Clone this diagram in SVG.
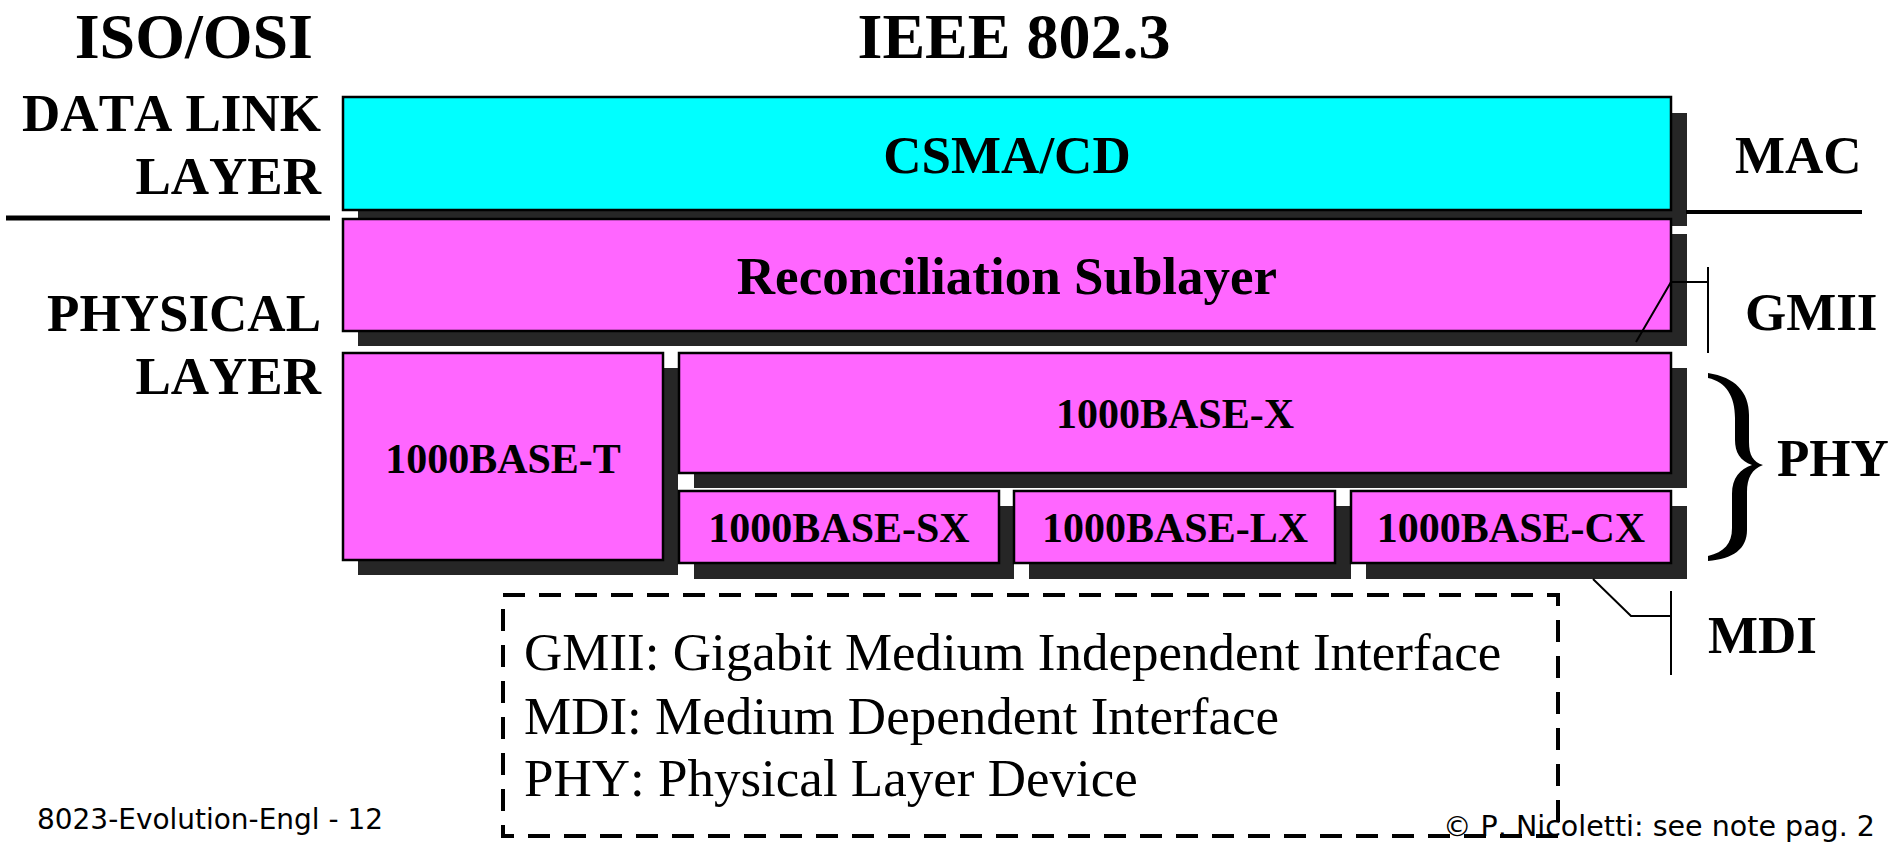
<svg xmlns="http://www.w3.org/2000/svg" width="1902" height="842" viewBox="0 0 1902 842">
<style>
.bg{fill:#ffffff}
.sh{fill:#262626}
.cy{fill:#00ffff;stroke:#000;stroke-width:2.5}
.mg{fill:#ff66ff;stroke:#000;stroke-width:2.5}
text{font-kerning:none}
.tb{font-family:"Liberation Serif","Times New Roman",serif;font-weight:bold;fill:#000}
.t53{font-size:53px}
.t64{font-size:64px}
.t42{font-size:42px}
.tr{font-family:"Liberation Serif","Times New Roman",serif;font-size:53px;fill:#000}
.ft{font-family:"DejaVu Sans",sans-serif;font-size:28px;fill:#000}
.ln{stroke:#000;fill:none}
</style>
<rect class="bg" x="0" y="0" width="1902" height="842"/>

<g id="titles">
<text class="tb t64" x="313" y="58" text-anchor="end">ISO/OSI</text>
<text class="tb t64" x="1014" y="58" text-anchor="middle">IEEE 802.3</text>
</g>

<g id="osi-labels">
<text class="tb t53" x="321" y="131" text-anchor="end">DATA LINK</text>
<text class="tb t53" x="321" y="194" text-anchor="end">LAYER</text>
<text class="tb t53" x="321" y="331" text-anchor="end">PHYSICAL</text>
<text class="tb t53" x="321" y="394" text-anchor="end">LAYER</text>
<line class="ln" x1="6" y1="218" x2="330" y2="218" stroke-width="5"/>
</g>

<g id="shadows">
<rect class="sh" x="358" y="113" width="1329" height="113"/>
<rect class="sh" x="358" y="234" width="1329" height="112"/>
<rect class="sh" x="358" y="368" width="320" height="207"/>
<rect class="sh" x="694" y="368" width="993" height="120"/>
<rect class="sh" x="694" y="506" width="320" height="73"/>
<rect class="sh" x="1029" y="506" width="322" height="73"/>
<rect class="sh" x="1366" y="506" width="321" height="73"/>
</g>

<g id="csma">
<rect class="cy" x="343" y="97" width="1328" height="113"/>
<text class="tb t53" x="1007" y="173" text-anchor="middle">CSMA/CD</text>
</g>
<g id="reconciliation">
<rect class="mg" x="343" y="219" width="1328" height="112"/>
<text class="tb t53" x="1007" y="294" text-anchor="middle">Reconciliation Sublayer</text>
</g>
<g id="base-t">
<rect class="mg" x="343" y="353" width="320" height="207"/>
<text class="tb t42" x="503" y="473" text-anchor="middle">1000BASE-T</text>
</g>
<g id="base-x">
<rect class="mg" x="679" y="353" width="992" height="120"/>
<text class="tb t42" x="1175" y="428" text-anchor="middle">1000BASE-X</text>
</g>
<g id="base-sx">
<rect class="mg" x="679" y="491" width="320" height="72"/>
<text class="tb t42" x="839" y="542" text-anchor="middle">1000BASE-SX</text>
</g>
<g id="base-lx">
<rect class="mg" x="1014" y="491" width="321" height="72"/>
<text class="tb t42" x="1175" y="542" text-anchor="middle">1000BASE-LX</text>
</g>
<g id="base-cx">
<rect class="mg" x="1351" y="491" width="320" height="72"/>
<text class="tb t42" x="1511" y="542" text-anchor="middle">1000BASE-CX</text>
</g>

<g id="connectors">
<line class="ln" x1="1686" y1="212" x2="1862" y2="212" stroke-width="4"/>
<polyline class="ln" points="1636,342 1671,282 1708,282" stroke-width="2"/>
<line class="ln" x1="1708" y1="267" x2="1708" y2="353" stroke-width="2"/>
<path d="M1708,373 C1735,377 1749,392 1749,415 L1749,442 C1749,455 1753,462 1763,465 C1752,469 1747,478 1747,492 L1747,530 C1747,549 1733,559 1708,561 L1708,556 C1724,552 1732,544 1732,528 L1732,494 C1732,478 1740,469 1752,465 C1740,461 1735,452 1735,440 L1735,418 C1735,396 1726,382 1708,378 Z" fill="#000"/>
<polyline class="ln" points="1593,579 1631,616 1671,616" stroke-width="2"/>
<line class="ln" x1="1671" y1="591" x2="1671" y2="675" stroke-width="2"/>
</g>

<g id="right-labels">
<text class="tb t53" x="1735" y="173">MAC</text>
<text class="tb t53" x="1745" y="330">GMII</text>
<text class="tb t53" x="1777" y="476">PHY</text>
<text class="tb t53" x="1708" y="653">MDI</text>
</g>

<g id="footer">
<text class="ft" x="37" y="829" textLength="346" lengthAdjust="spacingAndGlyphs">8023-Evolution-Engl - 12</text>
<text class="ft" x="1443" y="836" textLength="432" lengthAdjust="spacingAndGlyphs">© P. Nicoletti: see note pag. 2</text>
</g>

<g id="legend">
<rect x="503" y="595" width="1055" height="241" fill="none" stroke="#000" stroke-width="4" stroke-dasharray="22 14"/>
<text class="tr" x="524" y="670">GMII: Gigabit Medium Independent Interface</text>
<text class="tr" x="524" y="734">MDI: Medium Dependent Interface</text>
<text class="tr" x="524" y="796">PHY: Physical Layer Device</text>
</g>
</svg>
